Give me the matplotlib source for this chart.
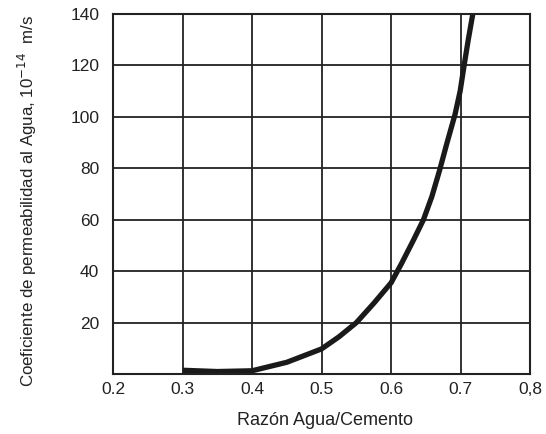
import matplotlib.pyplot as plt

plt.rcParams['font.family'] = ['Liberation Sans', 'DejaVu Sans']

# values
ratio = [0.30, 0.35, 0.40, 0.45, 0.50, 0.525, 0.55, 0.575, 0.60, 0.615, 0.632,
         0.6465, 0.6586, 0.6695, 0.680, 0.692, 0.6993, 0.705, 0.711, 0.7175]
perm = [1.5, 1.0, 1.3, 4.6, 9.8, 14.5, 20, 27.5, 35.5, 43, 52,
        60, 69, 79, 89.5, 101, 110, 120, 130, 140]

xticks = [0.2, 0.3, 0.4, 0.5, 0.6, 0.7, 0.8]
xlabels = ['0.2', '0.3', '0.4', '0.5', '0.6', '0.7', '0,8']
yticks = [20, 40, 60, 80, 100, 120, 140]

fig = plt.figure(figsize=(5.46, 4.34), dpi=100)
ax = fig.add_axes([0.207, 0.138, 0.764, 0.830])

ax.plot(ratio, perm, color='#1a1a1a', lw=3.8, solid_capstyle='butt',
        solid_joinstyle='round')

ax.set_xlim(0.2, 0.8)
ax.set_ylim(0, 140)
ax.set_xticks(xticks)
ax.set_xticklabels(xlabels)
ax.set_yticks(yticks)
ax.grid(True, color='#222', lw=1.3)
ax.set_axisbelow(True)
ax.tick_params(length=0, labelsize=12.5, labelcolor='#222')
ax.tick_params(axis='x', pad=6)
ax.tick_params(axis='y', pad=10)
for s in ax.spines.values():
    s.set_color('#222')
    s.set_linewidth(1.5)

ax.set_xlabel('Razón Agua/Cemento', fontsize=13, color='#222')
ax.set_ylabel('Coeficiente de permeabilidad al Agua, 10$^{-14}$  m/s',
              fontsize=12.2, color='#222')
ax.xaxis.set_label_coords(0.508, -0.105)
ax.yaxis.set_label_coords(-0.177, 0.48)

fig.savefig('out.png', dpi=100)
